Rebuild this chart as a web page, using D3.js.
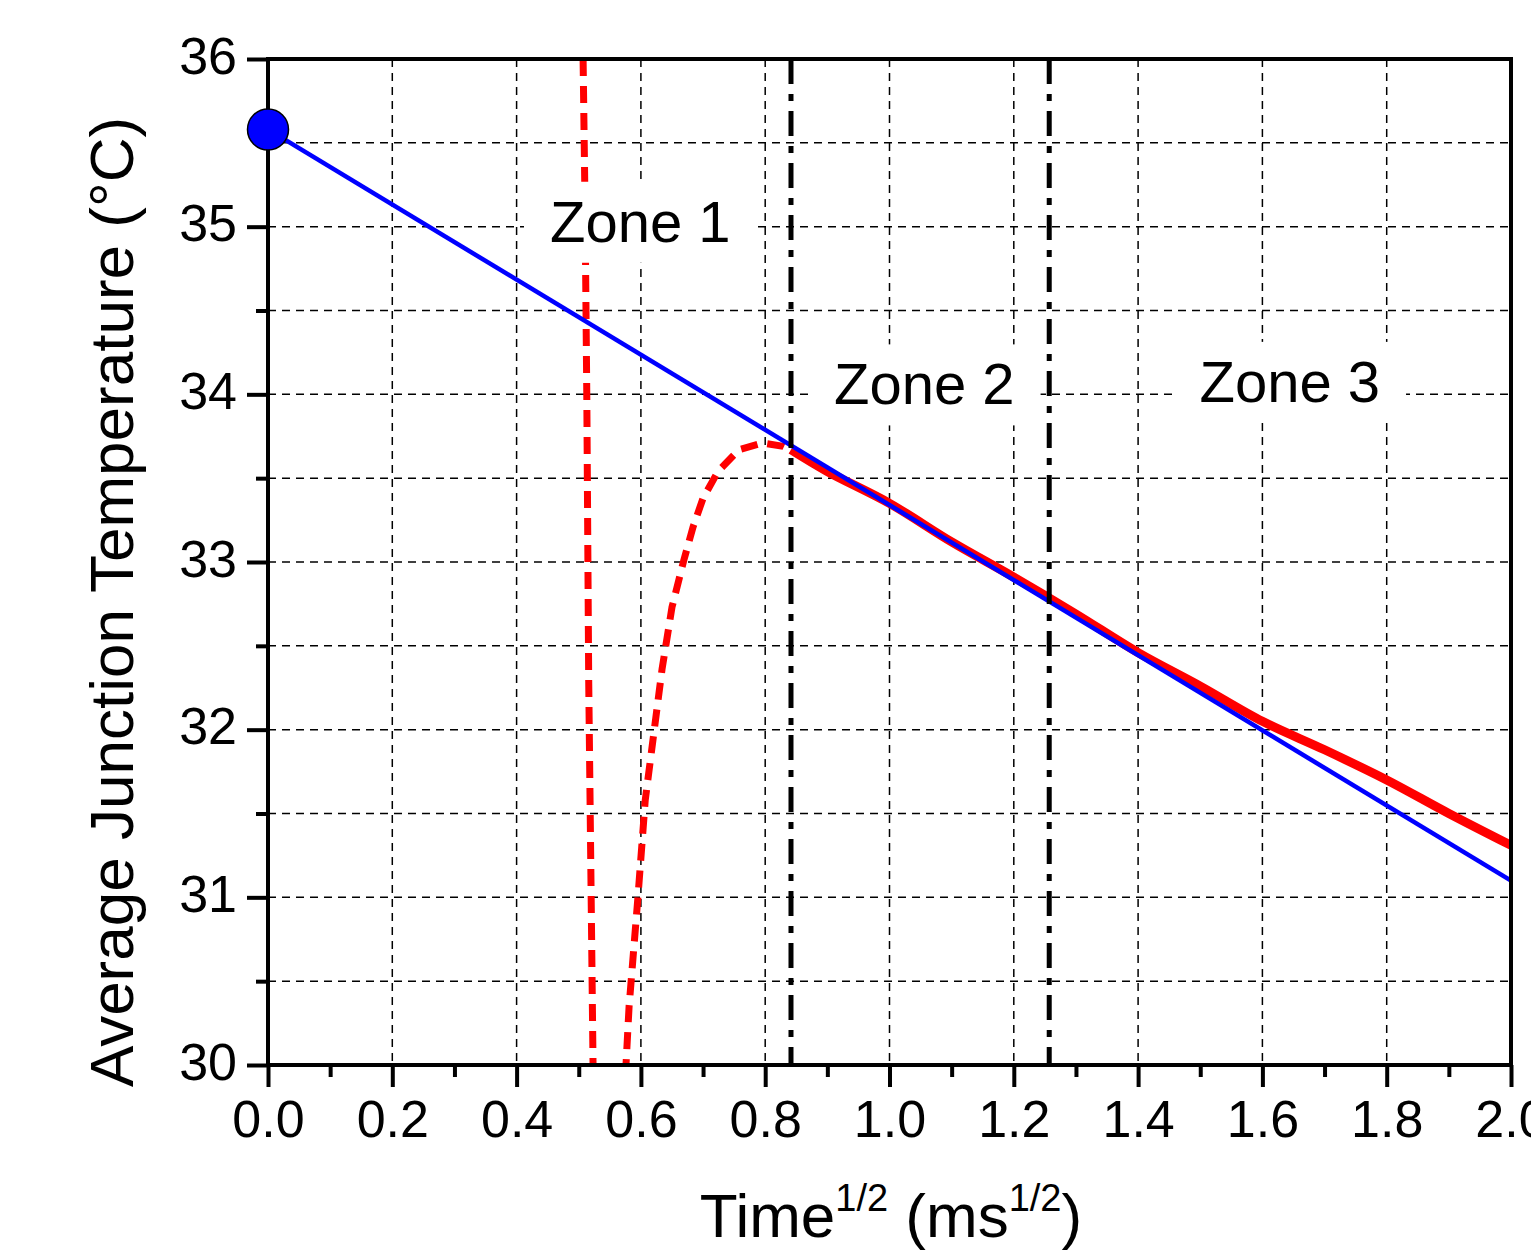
<!DOCTYPE html>
<html>
<head>
<meta charset="utf-8">
<script src="https://cdn.jsdelivr.net/npm/d3@7"></script>
<style>
  html, body { margin: 0; padding: 0; background: #fff; }
  svg { display: block; font-family: "Liberation Sans", Arial, sans-serif; }
</style>
</head>
<body>
<svg id="chart" width="1531" height="1251"></svg>
<script>
// ---------- data ----------
const xDomain = [0, 2];
const yDomain = [30, 36];
const xMajorTicks = [0, 0.2, 0.4, 0.6, 0.8, 1.0, 1.2, 1.4, 1.6, 1.8, 2.0];
const xTickLabels = ["0.0", "0.2", "0.4", "0.6", "0.8", "1.0", "1.2", "1.4", "1.6", "1.8", "2.0"];
const xMinorTicks = [0.1, 0.3, 0.5, 0.7, 0.9, 1.1, 1.3, 1.5, 1.7, 1.9];
const yMajorTicks = [30, 31, 32, 33, 34, 35, 36];
const yTickLabels = ["30", "31", "32", "33", "34", "35", "36"];
const yMinorTicks = [30.5, 31.5, 32.5, 33.5, 34.5, 35.5];

// linear fit (blue)
const fitX = [0, 2.0];
const fitT = [35.58, 31.10];
// starting point marker
const startX = [0];
const startT = [35.58];

// measured transient (red dashed, zone 1) — goes out of range below 30
const redDashX = [0.507, 0.510, 0.513, 0.516, 0.520, 0.523, 0.548, 0.576, 0.581, 0.595, 0.607, 0.634, 0.650, 0.669, 0.684, 0.700, 0.724, 0.758, 0.795, 0.829, 0.8415];
const redDashT = [36.0, 35.16, 33.97, 32.30, 30.99, 30.0, 28.3, 30.0, 30.35, 30.99, 31.58, 32.36, 32.73, 33.01, 33.21, 33.38, 33.54, 33.67, 33.71, 33.69, 33.67];
// measured (red solid)
const redSolidX = [0.8415, 0.9, 1.0, 1.1, 1.2, 1.3, 1.4, 1.5, 1.6, 1.7, 1.8, 1.9, 2.0];
const redSolidT = [33.67, 33.54, 33.35, 33.12, 32.91, 32.69, 32.46, 32.26, 32.05, 31.88, 31.70, 31.50, 31.31];

// zone boundaries and labels
const zoneBounds = [0.8415, 1.257];
const zoneLabels = ["Zone 1", "Zone 2", "Zone 3"];
const zoneLabelX = [0.599, 1.056, 1.644];
const zoneLabelT = [34.91, 33.94, 33.955];

// ---------- layout ----------
const L = 268, R = 1511, T = 59, B = 1065;
const svg = d3.select("#chart");
const x = d3.scaleLinear().domain(xDomain).range([L, R]);
const y = d3.scaleLinear().domain(yDomain).range([B, T]);

svg.append("defs").append("clipPath").attr("id", "plotclip")
  .append("rect").attr("x", L).attr("y", T).attr("width", R - L).attr("height", B - T);

// ---------- grid ----------
const grid = svg.append("g");
grid.selectAll("line.hg")
  .data(yMajorTicks.concat(yMinorTicks).filter(v => v > 30 && v < 36))
  .join("line")
  .attr("x1", L).attr("x2", R)
  .attr("y1", d => y(d)).attr("y2", d => y(d))
  .attr("stroke", "#000").attr("stroke-width", 1.5).attr("stroke-dasharray", "8,6");
grid.selectAll("line.vg")
  .data(xMajorTicks.filter(v => v > 0 && v < 2))
  .join("line")
  .attr("x1", d => x(d)).attr("x2", d => x(d))
  .attr("y1", T).attr("y2", B)
  .attr("stroke", "#000").attr("stroke-width", 1.5).attr("stroke-dasharray", "8,6");

// ---------- curves ----------
const plot = svg.append("g").attr("clip-path", "url(#plotclip)");

plot.append("path")
  .datum(redDashX.map((v, i) => [v, redDashT[i]]))
  .attr("d", d3.line().x(d => x(d[0])).y(d => y(d[1])))
  .attr("fill", "none").attr("stroke", "#ff0000").attr("stroke-width", 7)
  .attr("stroke-dasharray", "17,10");

plot.append("path")
  .datum(redSolidX.map((v, i) => [v, redSolidT[i]]))
  .attr("d", d3.line().x(d => x(d[0])).y(d => y(d[1])).curve(d3.curveCatmullRom))
  .attr("fill", "none").attr("stroke", "#ff0000").attr("stroke-width", 9)
  .attr("stroke-linejoin", "round");

plot.append("path")
  .datum(fitX.map((v, i) => [v, fitT[i]]))
  .attr("d", d3.line().x(d => x(d[0])).y(d => y(d[1])))
  .attr("fill", "none").attr("stroke", "#0000ff").attr("stroke-width", 4.5);

// zone boundary lines
svg.selectAll("line.zone")
  .data(zoneBounds)
  .join("line")
  .attr("x1", d => x(d)).attr("x2", d => x(d))
  .attr("y1", T).attr("y2", B)
  .attr("stroke", "#000").attr("stroke-width", 5)
  .attr("stroke-dasharray", "25,10,7,10");

// zone labels with white background
const zl = svg.append("g");
zoneLabels.forEach((lab, i) => {
  const g = zl.append("g");
  const t = g.append("text")
    .attr("x", x(zoneLabelX[i])).attr("y", y(zoneLabelT[i]))
    .attr("text-anchor", "middle")
    .attr("font-size", 58)
    .attr("fill", "#000")
    .text(lab);
  const bb = t.node().getBBox();
  g.insert("rect", "text")
    .attr("x", bb.x - 26).attr("y", bb.y - 7)
    .attr("width", bb.width + 52).attr("height", bb.height + 16)
    .attr("fill", "#fff");
});

// ---------- axes ----------
const ax = svg.append("g");
const xAxisMajor = d3.axisBottom(x).tickValues(xMajorTicks)
  .tickFormat((d, i) => xTickLabels[i]).tickSize(22).tickPadding(10);
const gx = ax.append("g").attr("transform", `translate(0,${B})`).call(xAxisMajor);
gx.select(".domain").remove();
gx.selectAll(".tick line").attr("stroke", "#000").attr("stroke-width", 4);
gx.selectAll(".tick text").attr("font-size", 52).attr("fill", "#000")
  .attr("font-family", "'Liberation Sans', Arial, sans-serif")
  .attr("dy", 0).attr("y", 72);
const xAxisMinor = d3.axisBottom(x).tickValues(xMinorTicks).tickFormat("").tickSize(12);
const gxm = ax.append("g").attr("transform", `translate(0,${B})`).call(xAxisMinor);
gxm.select(".domain").remove();
gxm.selectAll(".tick line").attr("stroke", "#000").attr("stroke-width", 4);

const yAxisMajor = d3.axisLeft(y).tickValues(yMajorTicks)
  .tickFormat((d, i) => yTickLabels[i]).tickSize(21).tickPadding(10);
const gy = ax.append("g").attr("transform", `translate(${L},0)`).call(yAxisMajor);
gy.select(".domain").remove();
gy.selectAll(".tick line").attr("stroke", "#000").attr("stroke-width", 4);
gy.selectAll(".tick text").attr("font-size", 52).attr("fill", "#000")
  .attr("font-family", "'Liberation Sans', Arial, sans-serif")
  .attr("dy", 0).attr("y", 14);
const yAxisMinor = d3.axisLeft(y).tickValues(yMinorTicks).tickFormat("").tickSize(12);
const gym = ax.append("g").attr("transform", `translate(${L},0)`).call(yAxisMinor);
gym.select(".domain").remove();
gym.selectAll(".tick line").attr("stroke", "#000").attr("stroke-width", 4);

// frame
ax.append("rect").attr("x", L).attr("y", T).attr("width", R - L).attr("height", B - T)
  .attr("fill", "none").attr("stroke", "#000").attr("stroke-width", 4);

// start marker
svg.selectAll("circle.start")
  .data(startX.map((v, i) => [v, startT[i]]))
  .join("circle")
  .attr("cx", d => x(d[0])).attr("cy", d => y(d[1])).attr("r", 20.5)
  .attr("fill", "#0000ff").attr("stroke", "#000").attr("stroke-width", 1.5);

// ---------- axis titles ----------
const xt = svg.append("text")
  .attr("x", 891).attr("y", 1237)
  .attr("text-anchor", "middle")
  .attr("font-size", 62).attr("fill", "#000");
xt.append("tspan").text("Time");
xt.append("tspan").attr("font-size", 38).attr("dy", -26).text("1/2");
xt.append("tspan").attr("dy", 26).text(" (ms");
xt.append("tspan").attr("font-size", 38).attr("dy", -26).text("1/2");
xt.append("tspan").attr("dy", 26).text(")");

svg.append("text")
  .attr("transform", "translate(133,602) rotate(-90)")
  .attr("text-anchor", "middle")
  .attr("font-size", 62).attr("fill", "#000")
  .text("Average Junction Temperature (°C)");
</script>
</body>
</html>
